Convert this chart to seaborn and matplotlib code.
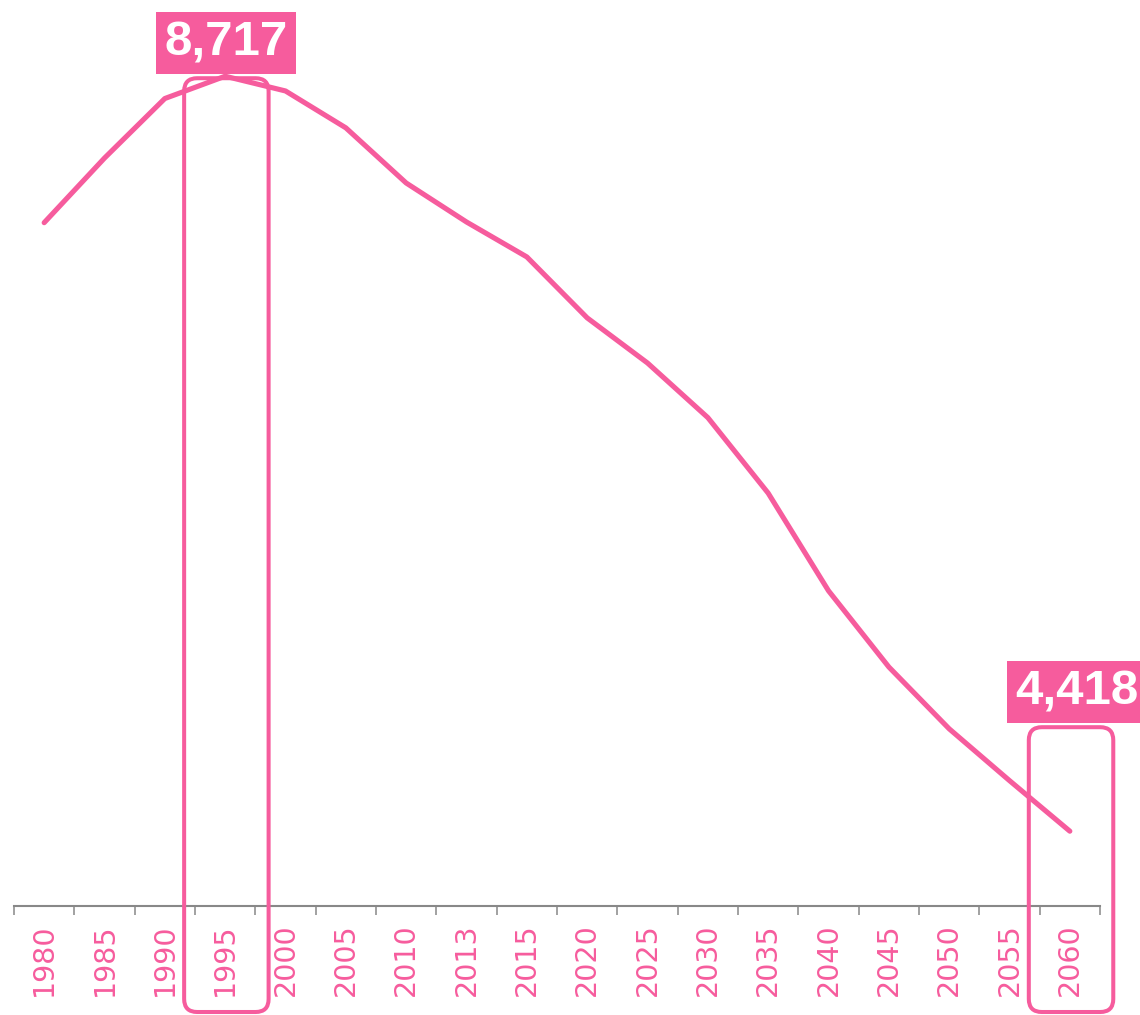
import matplotlib
matplotlib.use('Agg')
import matplotlib.pyplot as plt
from matplotlib.patches import FancyBboxPatch
from matplotlib.transforms import IdentityTransform
from matplotlib.ticker import FixedLocator
import seaborn as sns
import pandas as pd

# Data (working-age population, in 10k people)
years = ['1980', '1985', '1990', '1995', '2000', '2005', '2010', '2013', '2015',
         '2020', '2025', '2030', '2035', '2040', '2045', '2050', '2055', '2060']
population = [7883, 8251, 8590, 8717, 8633, 8423, 8109, 7887, 7688,
              7341, 7084, 6773, 6343, 5787, 5353, 5001, 4706, 4418]
highlight_years = ['1995', '2060']
highlight_lift = [-2, 104]  # px above the point where the outline starts
label_shift = [1, 7]        # px sideways for the value labels

pink = '#F65C9D'
sns.set_style('white')
plt.rcParams['font.family'] = ['DejaVu Sans']

df = pd.DataFrame({'year': years, 'population': population})

fig = plt.figure(figsize=(11.4, 10.15), dpi=100)
ax = fig.add_axes([14 / 1140, 109 / 1015, 1086 / 1140, 906 / 1015])
sns.lineplot(data=df, x='year', y='population', sort=False, color=pink,
             linewidth=3.7, ax=ax)
ax.lines[0].set_solid_capstyle('round')

ax.set_xlim(-0.5, len(years) - 0.5)
ax.set_ylim(3992, 9151)
ax.set_xlabel('')
ax.set_ylabel('')
ax.set_yticks([])

# category labels at centres, tick marks at the boundaries
ax.set_xticks(range(len(years)))
ax.set_xticklabels(years, rotation=90, color=pink, fontsize=20.5)
ax.xaxis.set_minor_locator(FixedLocator([i - 0.5 for i in range(len(years) + 1)]))
ax.tick_params(axis='x', which='major', bottom=True, length=0, pad=12.3)
ax.tick_params(axis='x', which='minor', bottom=True, length=6.5, width=1.1,
               color='#888888')

for side in ['left', 'top', 'right']:
    ax.spines[side].set_visible(False)
ax.spines['bottom'].set_color('#888888')
ax.spines['bottom'].set_linewidth(1.5)

# highlight outlines and value labels
for yr, lift, dx in zip(highlight_years, highlight_lift, label_shift):
    i = years.index(yr)
    v = population[i]
    x0, yv = ax.transData.transform((i - 0.68, v))
    x1, _ = ax.transData.transform((i + 0.72, v))
    top = yv + lift
    bottom = 3
    box = FancyBboxPatch((x0, bottom), x1 - x0, top - bottom,
                         boxstyle='round,pad=0,rounding_size=13',
                         transform=IdentityTransform(), fill=False,
                         edgecolor=pink, linewidth=2.9, clip_on=False)
    fig.add_artist(box)

    ax.annotate(f'{v:,}', xy=(i, v), xycoords='data',
                xytext=(dx, lift + 12.4), textcoords='offset pixels',
                ha='center', va='bottom', fontsize=35.5, fontweight='bold',
                family='Liberation Sans', color='white',
                bbox=dict(boxstyle='square,pad=0.17', fc=pink, ec='none'),
                annotation_clip=False)

fig.savefig('out.png', dpi=100)
